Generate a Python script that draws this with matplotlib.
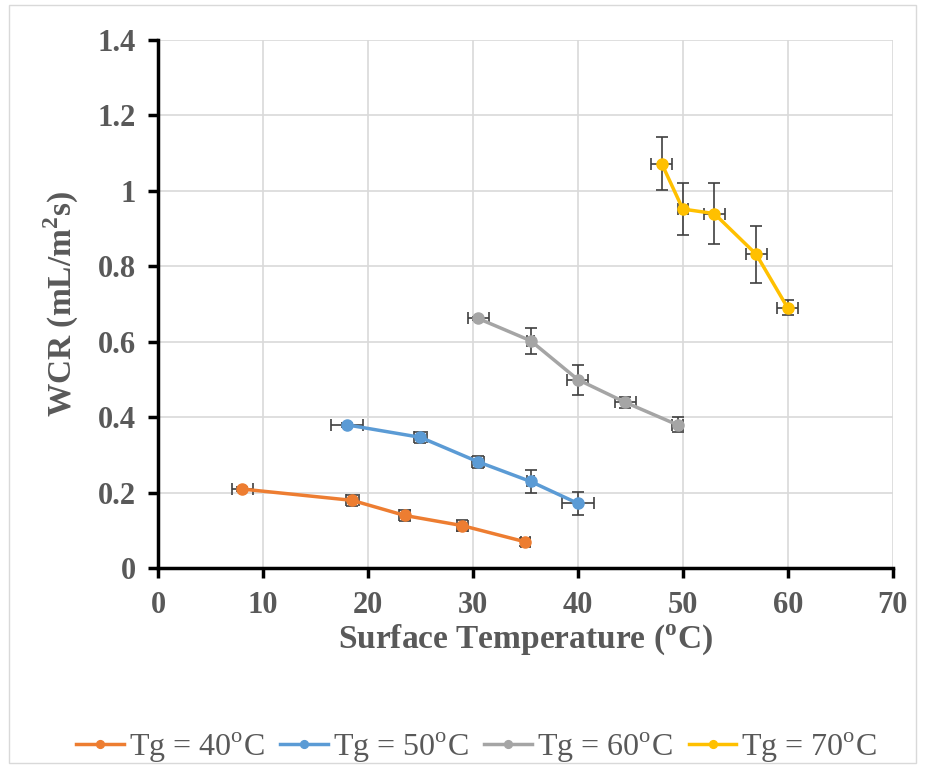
import numpy as np
import matplotlib
matplotlib.use('Agg')
import matplotlib.pyplot as plt
from matplotlib.patches import Rectangle

plt.rcParams['font.family'] = ['Liberation Serif', 'DejaVu Serif']
plt.rcParams['mathtext.fontset'] = 'custom'
plt.rcParams['mathtext.rm'] = 'Liberation Serif'
plt.rcParams['mathtext.bf'] = 'Liberation Serif:bold'

# Tg = 40 C
x40 = [8, 18.5, 23.5, 29, 35]
y40 = [0.21, 0.18, 0.14, 0.113, 0.07]
x40_err = [1.0, 0.6, 0.5, 0.5, 0.4]
y40_err = [0.005, 0.015, 0.015, 0.015, 0.01]

# Tg = 50 C
x50 = [18, 25, 30.5, 35.5, 40]
y50 = [0.38, 0.347, 0.282, 0.23, 0.172]
x50_err = [1.5, 0.6, 0.6, 0.3, 1.5]
y50_err = [0.005, 0.015, 0.015, 0.03, 0.03]

# Tg = 60 C
x60 = [30.5, 35.5, 40, 44.5, 49.5]
y60 = [0.662, 0.603, 0.50, 0.44, 0.38]
x60_err = [1.0, 0.3, 1.0, 1.0, 0.5]
y60_err = [0.005, 0.035, 0.04, 0.015, 0.02]

# Tg = 70 C
x70 = [48, 50, 53, 57, 60]
y70 = [1.072, 0.952, 0.94, 0.832, 0.69]
x70_err = [1.0, 0.5, 1.0, 1.0, 1.0]
y70_err = [0.07, 0.07, 0.08, 0.075, 0.02]

series = [
    (x40, y40, x40_err, y40_err, '#ED7D31', 'Tg = 40$^\\mathrm{o}$C'),
    (x50, y50, x50_err, y50_err, '#5B9BD5', 'Tg = 50$^\\mathrm{o}$C'),
    (x60, y60, x60_err, y60_err, '#A5A5A5', 'Tg = 60$^\\mathrm{o}$C'),
    (x70, y70, x70_err, y70_err, '#FFC000', 'Tg = 70$^\\mathrm{o}$C'),
]

txt = '#595959'

fig = plt.figure(figsize=(9.25, 7.69), dpi=100)
ax = fig.add_axes([0.171, 0.261, 0.794, 0.687])

for xs, ys, xe, ye, c, lab in series:
    ax.errorbar(xs, ys, xerr=xe, yerr=ye, fmt='none', ecolor='#404040',
                elinewidth=1.2, capsize=4, capthick=1.2, zorder=3)
    ax.plot(xs, ys, color=c, lw=2.5, marker='o', ms=8, label=lab, zorder=4)

ax.set_xlim(0, 70)
ax.set_ylim(0, 1.4)
ax.set_xticks(np.arange(0, 71, 10))
ax.set_yticks(np.arange(0, 1.41, 0.2))
ax.set_yticklabels(['0', '0.2', '0.4', '0.6', '0.8', '1', '1.2', '1.4'])
ax.grid(True, color='#d9d9d9', lw=1.2)
ax.set_axisbelow(True)

for s in ['top', 'right']:
    ax.spines[s].set_visible(False)
for s in ['left', 'bottom']:
    ax.spines[s].set_linewidth(2.5)
    ax.spines[s].set_color('black')
ax.tick_params(direction='out', length=7, width=2.5, color='black',
               labelsize=22, labelcolor=txt, pad=9)
for t in ax.get_xticklabels() + ax.get_yticklabels():
    t.set_fontweight('bold')

ax.set_xlabel('Surface Temperature ($^\\mathbf{o}$C)', fontsize=24,
              fontweight='bold', color=txt, labelpad=2)
ax.set_ylabel('WCR (mL/m$^\\mathbf{2}$s)', fontsize=24,
              fontweight='bold', color=txt, labelpad=12)

leg = fig.legend(loc='center', bbox_to_anchor=(0.515, 0.028), ncol=4,
                 frameon=False, fontsize=23, handlelength=1.5, borderaxespad=0,
                 handletextpad=0.15, columnspacing=0.5, markerscale=0.7)
for t in leg.get_texts():
    t.set_color(txt)

fig.patches.append(Rectangle((0.01, 0.008), 0.98, 0.985, transform=fig.transFigure,
                             fill=False, edgecolor='#d9d9d9', lw=1))

fig.savefig('out.png', dpi=100)
